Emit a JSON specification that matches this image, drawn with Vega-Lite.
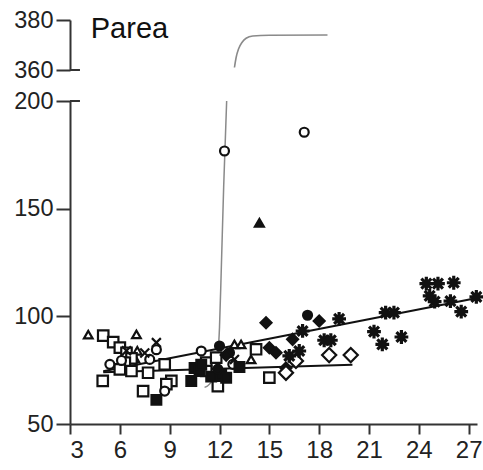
{
  "$schema": "https://vega.github.io/schema/vega-lite/v6.json",
  "background": "white",
  "padding": {"left": 13, "top": 8, "right": 2, "bottom": 2},
  "bounds": "flush",
  "spacing": 31,
  "config": {
    "view": {"stroke": null},
    "font": "Liberation Sans",
    "axis": {
      "grid": false,
      "title": null,
      "domainColor": "#333",
      "tickColor": "#333",
      "domainWidth": 2,
      "tickWidth": 2,
      "labelColor": "#222",
      "labelFont": "Liberation Sans"
    }
  },
  "datasets": {
    "points": [
      {"x": 4.1, "y": 91.5, "grp": "triangle open"},
      {"x": 7.0, "y": 91.6, "grp": "triangle open"},
      {"x": 7.05, "y": 84.0, "grp": "triangle open"},
      {"x": 6.9, "y": 80.5, "grp": "triangle open"},
      {"x": 12.9, "y": 87.0, "grp": "triangle open"},
      {"x": 13.3, "y": 87.0, "grp": "triangle open"},
      {"x": 13.9, "y": 80.0, "grp": "triangle open"},
      {"x": 14.4, "y": 143.4, "grp": "triangle filled"},
      {"x": 5.0, "y": 91.0, "grp": "square open"},
      {"x": 5.6, "y": 88.0, "grp": "square open"},
      {"x": 6.0, "y": 85.5, "grp": "square open"},
      {"x": 6.4, "y": 83.0, "grp": "square open"},
      {"x": 6.7, "y": 80.5, "grp": "square open"},
      {"x": 6.3, "y": 78.5, "grp": "square open"},
      {"x": 4.97, "y": 70.0, "grp": "square open"},
      {"x": 6.0, "y": 75.4, "grp": "square open"},
      {"x": 6.7, "y": 74.6, "grp": "square open"},
      {"x": 7.7, "y": 73.8, "grp": "square open"},
      {"x": 8.7, "y": 77.7, "grp": "square open"},
      {"x": 7.4, "y": 65.3, "grp": "square open"},
      {"x": 9.1, "y": 70.0, "grp": "square open"},
      {"x": 8.8, "y": 68.5, "grp": "square open"},
      {"x": 11.2, "y": 78.5, "grp": "square open"},
      {"x": 11.8, "y": 80.8, "grp": "square open"},
      {"x": 11.9, "y": 67.6, "grp": "square open"},
      {"x": 11.2, "y": 74.6, "grp": "square open"},
      {"x": 14.2, "y": 84.7, "grp": "square open"},
      {"x": 15.0, "y": 71.5, "grp": "square open"},
      {"x": 5.4, "y": 77.7, "grp": "circle open"},
      {"x": 6.1, "y": 79.5, "grp": "circle open"},
      {"x": 7.8, "y": 80.0, "grp": "circle open"},
      {"x": 8.2, "y": 84.5, "grp": "circle open"},
      {"x": 8.7, "y": 65.3, "grp": "circle open"},
      {"x": 10.9, "y": 83.9, "grp": "circle open"},
      {"x": 12.8, "y": 77.7, "grp": "circle open"},
      {"x": 12.3, "y": 176.8, "grp": "circle open"},
      {"x": 17.1, "y": 185.5, "grp": "circle open"},
      {"x": 8.2, "y": 61.2, "grp": "square filled"},
      {"x": 10.3, "y": 70.0, "grp": "square filled"},
      {"x": 10.5, "y": 76.0, "grp": "square filled"},
      {"x": 10.8, "y": 74.6, "grp": "square filled"},
      {"x": 10.9, "y": 77.5, "grp": "square filled"},
      {"x": 11.5, "y": 72.0, "grp": "square filled"},
      {"x": 12.1, "y": 73.0, "grp": "square filled"},
      {"x": 12.4, "y": 71.5, "grp": "square filled"},
      {"x": 13.2, "y": 76.5, "grp": "square filled"},
      {"x": 8.2, "y": 87.8, "grp": "cross"},
      {"x": 7.5, "y": 83.0, "grp": "cross"},
      {"x": 6.4, "y": 84.0, "grp": "cross"},
      {"x": 12.9, "y": 80.0, "grp": "cross"},
      {"x": 12.0, "y": 86.2, "grp": "circle filled"},
      {"x": 12.6, "y": 83.1, "grp": "circle filled"},
      {"x": 11.9, "y": 75.5, "grp": "circle filled"},
      {"x": 17.3, "y": 100.5, "grp": "circle filled"},
      {"x": 14.8, "y": 97.0, "grp": "diamond filled"},
      {"x": 15.0, "y": 85.4, "grp": "diamond filled"},
      {"x": 15.4, "y": 83.1, "grp": "diamond filled"},
      {"x": 16.4, "y": 89.3, "grp": "diamond filled"},
      {"x": 18.0, "y": 97.8, "grp": "diamond filled"},
      {"x": 12.4, "y": 82.0, "grp": "diamond filled"},
      {"x": 16.0, "y": 76.0, "grp": "diamond filled"},
      {"x": 16.0, "y": 73.8, "grp": "diamond open"},
      {"x": 16.6, "y": 79.3, "grp": "diamond open"},
      {"x": 18.6, "y": 82.0, "grp": "diamond open"},
      {"x": 19.9, "y": 82.0, "grp": "diamond open"},
      {"x": 16.2, "y": 81.6, "grp": "asterisk"},
      {"x": 16.8, "y": 83.9, "grp": "asterisk"},
      {"x": 17.0, "y": 93.2, "grp": "asterisk"},
      {"x": 19.2, "y": 98.8, "grp": "asterisk"},
      {"x": 18.3, "y": 88.9, "grp": "asterisk"},
      {"x": 18.7, "y": 88.9, "grp": "asterisk"},
      {"x": 21.3, "y": 92.9, "grp": "asterisk"},
      {"x": 21.8, "y": 87.0, "grp": "asterisk"},
      {"x": 22.95, "y": 90.4, "grp": "asterisk"},
      {"x": 22.0, "y": 101.7, "grp": "asterisk"},
      {"x": 22.5, "y": 101.7, "grp": "asterisk"},
      {"x": 24.45, "y": 115.2, "grp": "asterisk"},
      {"x": 25.15, "y": 115.2, "grp": "asterisk"},
      {"x": 26.1, "y": 115.6, "grp": "asterisk"},
      {"x": 24.65, "y": 109.5, "grp": "asterisk"},
      {"x": 24.95, "y": 106.8, "grp": "asterisk"},
      {"x": 25.9, "y": 107.1, "grp": "asterisk"},
      {"x": 26.55, "y": 102.2, "grp": "asterisk"},
      {"x": 27.46, "y": 109.0, "grp": "asterisk"}
    ],
    "fits": [
      {"fit": "upper", "x": 5.0, "y": 74.5},
      {"fit": "upper", "x": 27.5, "y": 108.5},
      {"fit": "lower", "x": 5.0, "y": 74.0},
      {"fit": "lower", "x": 20.0, "y": 77.5}
    ],
    "curveLow": [
      {"x": 11.1, "y": 67.0},
      {"x": 11.4, "y": 68.5},
      {"x": 11.7, "y": 73.0},
      {"x": 11.9, "y": 82.0},
      {"x": 12.0, "y": 95.0},
      {"x": 12.1, "y": 120.0},
      {"x": 12.25, "y": 160.0},
      {"x": 12.43, "y": 200.0}
    ],
    "curveHigh": [
      {"x": 12.9, "y": 361.0},
      {"x": 13.0, "y": 365.0},
      {"x": 13.15, "y": 368.5},
      {"x": 13.35, "y": 371.0},
      {"x": 13.6, "y": 372.7},
      {"x": 14.0, "y": 373.6},
      {"x": 15.0, "y": 373.9},
      {"x": 18.5, "y": 374.0}
    ]
  },
  "vconcat": [
    {
      "width": 407,
      "height": 50,
      "layer": [
        {
          "data": {"name": "curveHigh"},
          "mark": {"type": "line", "color": "#8a8a8a", "strokeWidth": 1.6, "interpolate": "monotone"},
          "encoding": {
            "x": {"field": "x", "type": "quantitative", "scale": {"domain": [3, 27.5], "nice": false, "zero": false}, "axis": null},
            "y": {"field": "y", "type": "quantitative", "scale": {"domain": [360, 380], "nice": false, "zero": false},
                  "axis": {"values": [360, 380], "tickSize": 14, "labelPadding": 3, "labelFontSize": 23.5}}
          }
        },
        {
          "data": {"values": [{}]},
          "mark": {"type": "rule", "color": "#333", "strokeWidth": 2},
          "encoding": {
            "x": {"datum": 3},
            "x2": {"datum": 3.6},
            "y": {"datum": 360}
          }
        },
        {
          "data": {"values": [{}]},
          "mark": {"type": "text", "text": "Parea", "font": "Liberation Sans", "fontSize": 29, "align": "left", "baseline": "alphabetic", "color": "#111"},
          "encoding": {
            "x": {"datum": 4.25},
            "y": {"datum": 373.0}
          }
        }
      ]
    },
    {
      "width": 407,
      "height": 323,
      "layer": [
        {
          "data": {"name": "curveLow"},
          "mark": {"type": "line", "color": "#8a8a8a", "strokeWidth": 1.5, "interpolate": "monotone"},
          "encoding": {
            "x": {"field": "x", "type": "quantitative", "scale": {"domain": [3, 27.5], "nice": false, "zero": false},
                  "axis": {"values": [3, 6, 9, 12, 15, 18, 21, 24, 27], "tickSize": 10, "labelPadding": 4, "labelFontSize": 24}},
            "y": {"field": "y", "type": "quantitative", "scale": {"domain": [50, 200], "nice": false, "zero": false},
                  "axis": {"values": [50, 100, 150, 200], "tickSize": 14, "labelPadding": 3, "labelFontSize": 23.5}}
          }
        },
        {
          "data": {"name": "fits"},
          "mark": {"type": "line", "color": "#111", "strokeWidth": 2},
          "encoding": {
            "x": {"field": "x", "type": "quantitative"},
            "y": {"field": "y", "type": "quantitative"},
            "detail": {"field": "fit"}
          }
        },
        {
          "data": {"name": "points"},
          "transform": [{"filter": "datum.grp !== 'asterisk'"}],
          "mark": {"type": "point", "opacity": 1, "stroke": "#111", "strokeWidth": 2.2},
          "encoding": {
            "x": {"field": "x", "type": "quantitative"},
            "y": {"field": "y", "type": "quantitative"},
            "shape": {
              "field": "grp", "type": "nominal", "legend": null,
              "scale": {
                "domain": ["square open", "square filled", "circle open", "circle filled", "triangle open", "triangle filled", "cross", "diamond open", "diamond filled"],
                "range": ["square", "square", "circle", "circle", "triangle-up", "triangle-up",
                          "M-1,-1L1,1M-1,1L1,-1",
                          "diamond", "diamond"]
              }
            },
            "fill": {
              "field": "grp", "type": "nominal", "legend": null,
              "scale": {
                "domain": ["square open", "square filled", "circle open", "circle filled", "triangle open", "triangle filled", "cross", "diamond open", "diamond filled"],
                "range": ["white", "#111", "white", "#111", "white", "#111", "#111", "white", "#111"]
              }
            },
            "size": {
              "field": "grp", "type": "nominal", "legend": null,
              "scale": {
                "type": "ordinal",
                "domain": ["square open", "square filled", "circle open", "circle filled", "triangle open", "triangle filled", "cross", "diamond open", "diamond filled"],
                "range": [110, 95, 80, 80, 75, 80, 80, 200, 120]
              }
            }
          }
        },
        {
          "data": {"name": "points"},
          "transform": [{"filter": "datum.grp === 'asterisk'"}],
          "mark": {
            "type": "point", "opacity": 1, "stroke": "#111", "strokeWidth": 3.2, "fill": "#111", "size": 190,
            "shape": "M-1,0L1,0M0,-1L0,1M-0.72,-0.72L0.72,0.72M-0.72,0.72L0.72,-0.72"
          },
          "encoding": {
            "x": {"field": "x", "type": "quantitative"},
            "y": {"field": "y", "type": "quantitative"}
          }
        },
        {
          "data": {"values": [{}]},
          "mark": {"type": "rule", "color": "#333", "strokeWidth": 2},
          "encoding": {
            "x": {"datum": 3},
            "x2": {"datum": 3.6},
            "y": {"datum": 200}
          }
        }
      ]
    }
  ]
}
